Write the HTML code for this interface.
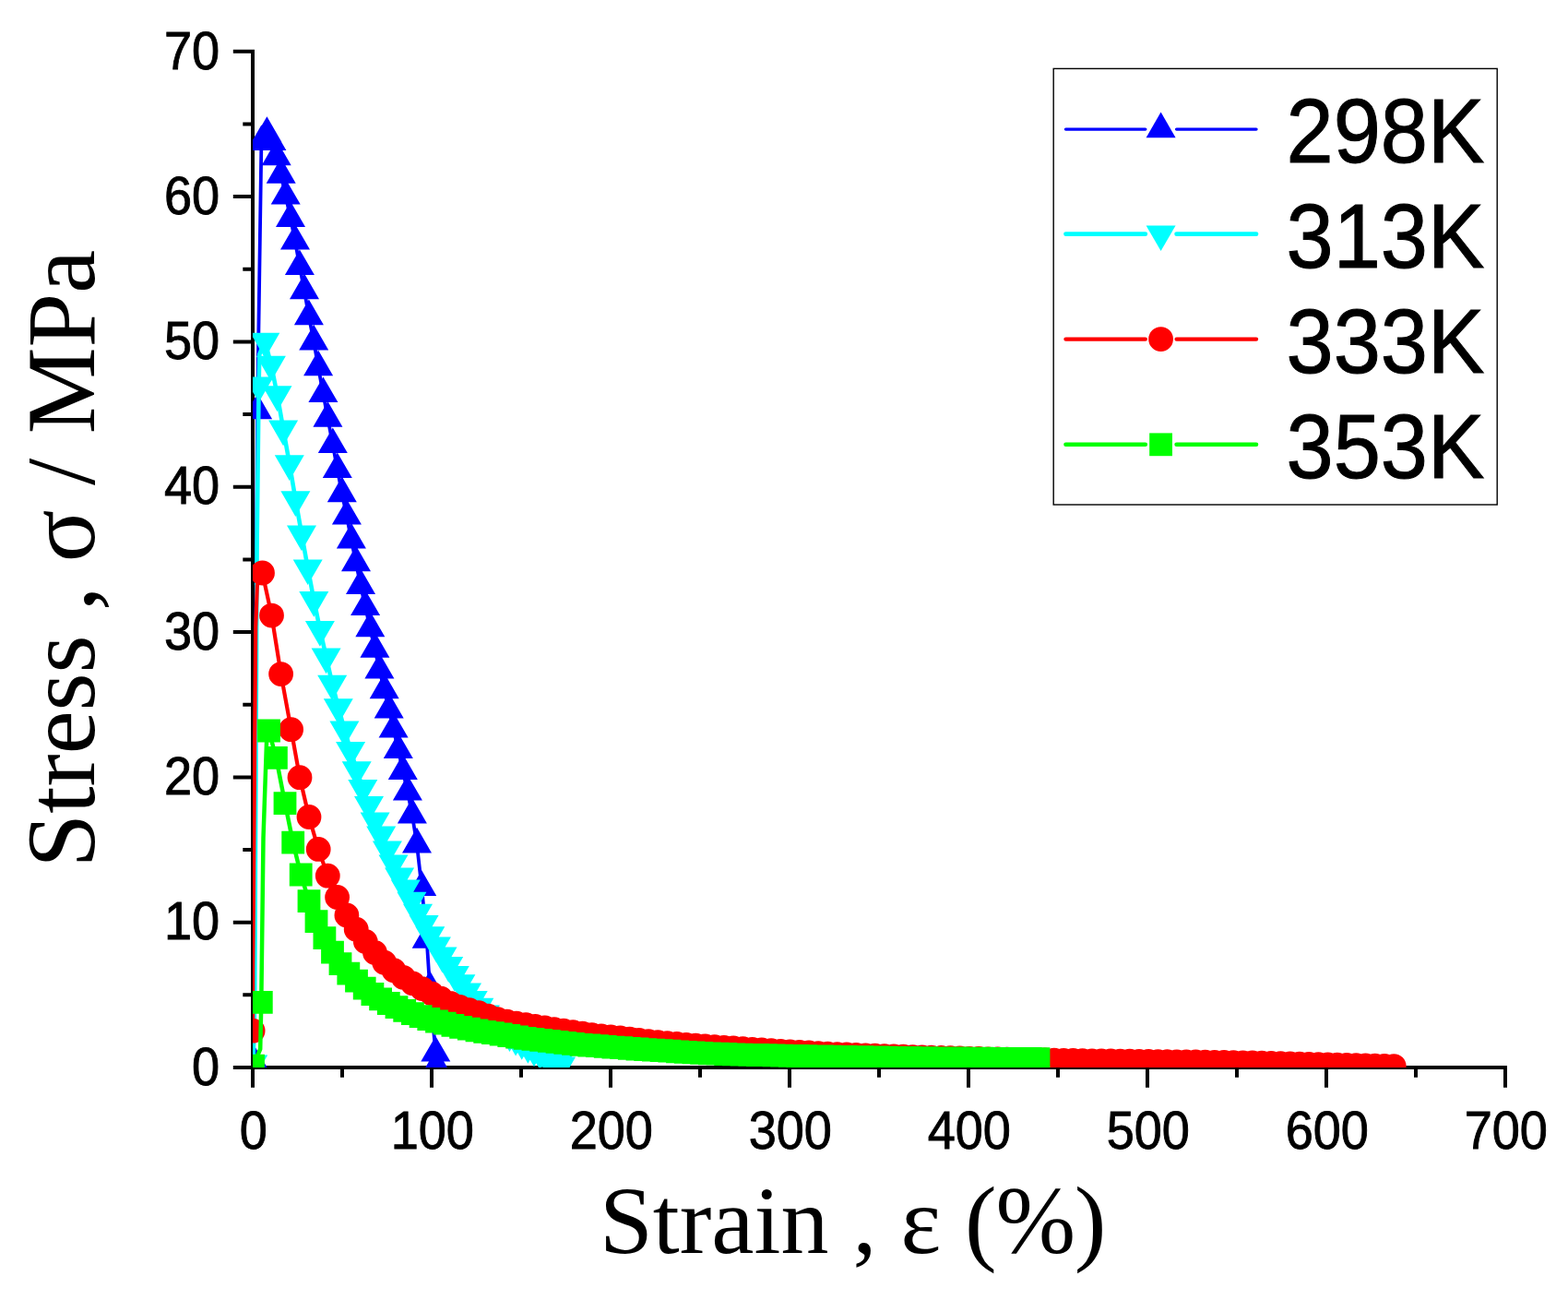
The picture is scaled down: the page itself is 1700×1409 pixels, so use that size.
<!DOCTYPE html>
<html lang="en"><head><meta charset="utf-8"><title>Stress-strain curves</title>
<style>html,body{margin:0;padding:0;background:#fff}body{width:1700px;height:1409px;overflow:hidden}svg{display:block}.t{font-family:"Liberation Sans",sans-serif;font-size:57.6px;fill:#000;stroke:#000;stroke-width:.9px}.l{font-family:"Liberation Sans",sans-serif;font-size:99px;fill:#000;stroke:#000;stroke-width:1px}.a{font-family:"Liberation Serif",serif;font-size:104px;fill:#000}.b{font-family:"Liberation Serif",serif;font-size:105.5px;fill:#000}</style></head><body>
<svg width="1700" height="1409" viewBox="0 0 1700 1409">
<rect width="1700" height="1409" fill="#fff"/>
<clipPath id="plot"><rect x="273.9" y="40" width="1400" height="1117"/></clipPath>
<path d="M274 53.75V1159M252.8 1157H1634M263.3 1078.3H274M252.8 999.7H274M263.3 921H274M252.8 842.4H274M263.3 763.7H274M252.8 685H274M263.3 606.4H274M252.8 527.7H274M263.3 449.1H274M252.8 370.4H274M263.3 291.7H274M252.8 213.1H274M263.3 134.4H274M252.8 55.8H274M274 1157V1178.8M371 1157V1167.8M468 1157V1178.8M565 1157V1167.8M662 1157V1178.8M759 1157V1167.8M856 1157V1178.8M953 1157V1167.8M1050 1157V1178.8M1147 1157V1167.8M1244 1157V1178.8M1341 1157V1167.8M1438 1157V1178.8M1535 1157V1167.8M1632 1157V1178.8" fill="none" stroke="#000" stroke-width="4"/>
<g class="t" text-anchor="end">
<text transform="translate(238.2 1175.7) scale(0.94 1)">0</text>
<text transform="translate(238.2 1018.4) scale(0.94 1)">10</text>
<text transform="translate(238.2 861.1) scale(0.94 1)">20</text>
<text transform="translate(238.2 703.7) scale(0.94 1)">30</text>
<text transform="translate(238.2 546.4) scale(0.94 1)">40</text>
<text transform="translate(238.2 389.1) scale(0.94 1)">50</text>
<text transform="translate(238.2 231.8) scale(0.94 1)">60</text>
<text transform="translate(238.2 74.5) scale(0.94 1)">70</text>
</g>
<g class="t" text-anchor="middle">
<text transform="translate(274.8 1245.2) scale(0.94 1)">0</text>
<text transform="translate(468.8 1245.2) scale(0.94 1)">100</text>
<text transform="translate(662.8 1245.2) scale(0.94 1)">200</text>
<text transform="translate(856.8 1245.2) scale(0.94 1)">300</text>
<text transform="translate(1050.8 1245.2) scale(0.94 1)">400</text>
<text transform="translate(1244.8 1245.2) scale(0.94 1)">500</text>
<text transform="translate(1438.8 1245.2) scale(0.94 1)">600</text>
<text transform="translate(1632.8 1245.2) scale(0.94 1)">700</text>
</g>
<text class="a" x="650" y="1358.2">Strain , ε (<tspan dx="-1.2">%</tspan><tspan dx="-1.4">)</tspan></text>
<text class="b" transform="translate(102 940.4) rotate(-90)">Stress , σ / MPa</text>
<g clip-path="url(#plot)">
<path d="M274.2 1148.9L279.1 445.1L283.4 153.9L289.4 144.7L294.4 153.9L299.7 170.1L304.7 189.6L309.7 212.4L315 236.7L320 261.4L324.9 288.9L330 315.1L334.9 343.1L340.2 370.2L345.1 398.1L350.4 426.9L355.4 453.5L360.8 481.9L365.8 508.9L370.8 535L375.9 559.4L380.9 585.2L386 610L391 634.8L396.1 657.9L401.3 681L406.4 703.5L411.4 726.2L416.7 748L421.7 769.3L426.6 790.4L431.8 812.8L436.8 835.7L441.9 858.4L446.9 883.2L452 915.2L457.2 961.8L462.7 1018.5L466 1070.5L472.3 1141.4L473.1 1155" fill="none" stroke="#0000ff" stroke-width="3.8" stroke-linejoin="round"/>
<path d="M274.2 1130.4l16 27.7h-32zM279.1 426.6l16 27.7h-32zM283.4 135.4l16 27.7h-32zM289.4 126.2l16 27.7h-32zM294.4 135.4l16 27.7h-32zM299.7 151.6l16 27.7h-32zM304.7 171.1l16 27.7h-32zM309.7 193.9l16 27.7h-32zM315 218.2l16 27.7h-32zM320 242.9l16 27.7h-32zM324.9 270.4l16 27.7h-32zM330 296.6l16 27.7h-32zM334.9 324.6l16 27.7h-32zM340.2 351.7l16 27.7h-32zM345.1 379.6l16 27.7h-32zM350.4 408.4l16 27.7h-32zM355.4 435l16 27.7h-32zM360.8 463.4l16 27.7h-32zM365.8 490.4l16 27.7h-32zM370.8 516.5l16 27.7h-32zM375.9 540.9l16 27.7h-32zM380.9 566.7l16 27.7h-32zM386 591.5l16 27.7h-32zM391 616.3l16 27.7h-32zM396.1 639.4l16 27.7h-32zM401.3 662.5l16 27.7h-32zM406.4 685l16 27.7h-32zM411.4 707.7l16 27.7h-32zM416.7 729.5l16 27.7h-32zM421.7 750.8l16 27.7h-32zM426.6 771.9l16 27.7h-32zM431.8 794.3l16 27.7h-32zM436.8 817.2l16 27.7h-32zM441.9 839.9l16 27.7h-32zM446.9 864.7l16 27.7h-32zM452 896.7l16 27.7h-32zM457.2 943.3l16 27.7h-32zM462.7 1000l16 27.7h-32zM466 1052l16 27.7h-32zM472.3 1122.9l16 27.7h-32zM473.1 1136.5l16 27.7h-32z" fill="#0000ff"/>
<path d="M274.2 1152.8L275.5 1120L276.2 1075L278.6 590L280.6 417.6L281.3 384L287.3 369.9L293.9 395L300.5 427.4L307.1 464.8L313.8 502.4L320.4 541.4L327 578.7L333.7 615.6L340.3 650.2L346.9 682.3L353.6 711.7L360.2 741L366.8 766.4L373.4 790.7L380.1 813.2L386.7 834.5L393.3 854.2L400 872.3L406.6 889.7L413.2 904.8L419.9 920.6L426.5 935.6L433.1 949.8L439.8 962.8L446.4 976L453 988.9L459.6 1001.3L466.3 1013.4L472.9 1024.8L479.5 1035.8L486.2 1046.2L492.8 1056.2L499.4 1065.4L506 1074.6L512.7 1083.1L519.3 1090.9L525.9 1098.7L532.6 1105.2L539.2 1111L545.8 1116.4L552.5 1121.4L559.1 1126L565.7 1130.2L572.4 1134.2L579 1137.8L585.6 1141.2L592.2 1144.8L598.9 1148.4L605.5 1151.8L608.1 1154.8" fill="none" stroke="#00ffff" stroke-width="4.6" stroke-linejoin="round"/>
<path d="M274.2 1171.3l16 -27.7h-32zM280.6 436.1l16 -27.7h-32zM287.3 388.4l16 -27.7h-32zM293.9 413.5l16 -27.7h-32zM300.5 445.9l16 -27.7h-32zM307.1 483.3l16 -27.7h-32zM313.8 520.9l16 -27.7h-32zM320.4 559.9l16 -27.7h-32zM327 597.2l16 -27.7h-32zM333.7 634.1l16 -27.7h-32zM340.3 668.7l16 -27.7h-32zM346.9 700.8l16 -27.7h-32zM353.6 730.2l16 -27.7h-32zM360.2 759.5l16 -27.7h-32zM366.8 784.9l16 -27.7h-32zM373.4 809.2l16 -27.7h-32zM380.1 831.7l16 -27.7h-32zM386.7 853l16 -27.7h-32zM393.3 872.7l16 -27.7h-32zM400 890.8l16 -27.7h-32zM406.6 908.2l16 -27.7h-32zM413.2 923.3l16 -27.7h-32zM419.9 939.1l16 -27.7h-32zM426.5 954.1l16 -27.7h-32zM433.1 968.3l16 -27.7h-32zM439.8 981.3l16 -27.7h-32zM446.4 994.5l16 -27.7h-32zM453 1007.4l16 -27.7h-32zM459.6 1019.8l16 -27.7h-32zM466.3 1031.9l16 -27.7h-32zM472.9 1043.3l16 -27.7h-32zM479.5 1054.3l16 -27.7h-32zM486.2 1064.7l16 -27.7h-32zM492.8 1074.7l16 -27.7h-32zM499.4 1083.9l16 -27.7h-32zM506 1093.1l16 -27.7h-32zM512.7 1101.6l16 -27.7h-32zM519.3 1109.4l16 -27.7h-32zM525.9 1117.2l16 -27.7h-32zM532.6 1123.7l16 -27.7h-32zM539.2 1129.5l16 -27.7h-32zM545.8 1134.9l16 -27.7h-32zM552.5 1139.9l16 -27.7h-32zM559.1 1144.5l16 -27.7h-32zM565.7 1148.7l16 -27.7h-32zM572.4 1152.7l16 -27.7h-32zM579 1156.3l16 -27.7h-32zM585.6 1159.7l16 -27.7h-32zM592.2 1163.3l16 -27.7h-32zM598.9 1166.9l16 -27.7h-32zM605.5 1170.3l16 -27.7h-32zM608.1 1173.3l16 -27.7h-32z" fill="#00ffff"/>
<path d="M274.1 1117.2L274.2 1050L275.8 850L277.2 680L278.8 635L281 624L284.5 621L294.5 667.1L304.6 730.6L315.6 790.7L325 842.7L335 885.5L345.2 920.4L355.3 949.2L365.6 972.5L375.9 992L386.2 1007.2L396.3 1020.4L406.5 1032.4L416.7 1043.2L427 1051.7L437.2 1059.3L447.4 1065.8L457.6 1071.6L467.8 1076.8L478 1082.2L488.3 1087.3L498.5 1091.3L508.7 1094.7L518.9 1097.8L529.2 1101.1L539.4 1104.6L549.6 1107.2L559.9 1109.1L570.1 1110.7L580.3 1112.4L590.6 1114L600.8 1115.6L611 1117.2L621.2 1118.7L631.5 1120.2L641.7 1121.6L651.9 1122.8L662.2 1123.9L672.4 1125L682.6 1126.1L692.8 1127.4L703.1 1128.6L713.3 1129.7L723.5 1130.6L733.8 1131.5L744 1132.3L754.2 1133.1L764.5 1133.9L774.7 1134.6L784.9 1135.3L795.1 1136L805.4 1136.7L815.6 1137.3L825.8 1138L836.1 1138.7L846.3 1139.3L856.5 1139.9L866.7 1140.5L877 1141L887.2 1141.6L897.4 1142.1L907.7 1142.6L917.9 1143L928.1 1143.4L938.4 1143.8L948.6 1144.2L958.8 1144.6L969 1144.9L979.3 1145.2L989.5 1145.6L999.7 1145.9L1010 1146.2L1020.2 1146.5L1030.4 1146.7L1040.6 1147L1050.9 1147.3L1061.1 1147.5L1071.3 1147.8L1081.6 1148L1091.8 1148.2L1102 1148.4L1112.3 1148.6L1122.5 1148.8L1132.7 1149L1142.9 1149.2L1153.2 1149.3L1163.4 1149.5L1173.6 1149.6L1183.9 1149.8L1194.1 1149.9L1204.3 1150L1214.5 1150.1L1224.8 1150.2L1235 1150.3L1245.2 1150.4L1255.5 1150.6L1265.7 1150.7L1275.9 1150.8L1286.2 1150.9L1296.4 1151L1306.6 1151.2L1316.8 1151.3L1327.1 1151.5L1337.3 1151.6L1347.5 1151.8L1357.8 1152L1368 1152.2L1378.2 1152.4L1388.4 1152.7L1398.7 1152.9L1408.9 1153.1L1419.1 1153.4L1429.4 1153.7L1439.6 1153.9L1449.8 1154.2L1460.1 1154.4L1470.3 1154.7L1480.5 1154.9L1490.7 1155.2L1501 1155.4L1511.2 1155.6" fill="none" stroke="#ff0000" stroke-width="4.2" stroke-linejoin="round"/>
<path d="M260.7 1117.2a13.4 13.4 0 1 0 26.8 0a13.4 13.4 0 1 0 -26.8 0zM271.1 621a13.4 13.4 0 1 0 26.8 0a13.4 13.4 0 1 0 -26.8 0zM281.1 667.1a13.4 13.4 0 1 0 26.8 0a13.4 13.4 0 1 0 -26.8 0zM291.2 730.6a13.4 13.4 0 1 0 26.8 0a13.4 13.4 0 1 0 -26.8 0zM302.2 790.7a13.4 13.4 0 1 0 26.8 0a13.4 13.4 0 1 0 -26.8 0zM311.6 842.7a13.4 13.4 0 1 0 26.8 0a13.4 13.4 0 1 0 -26.8 0zM321.6 885.5a13.4 13.4 0 1 0 26.8 0a13.4 13.4 0 1 0 -26.8 0zM331.8 920.4a13.4 13.4 0 1 0 26.8 0a13.4 13.4 0 1 0 -26.8 0zM341.9 949.2a13.4 13.4 0 1 0 26.8 0a13.4 13.4 0 1 0 -26.8 0zM352.2 972.5a13.4 13.4 0 1 0 26.8 0a13.4 13.4 0 1 0 -26.8 0zM362.5 992a13.4 13.4 0 1 0 26.8 0a13.4 13.4 0 1 0 -26.8 0zM372.8 1007.2a13.4 13.4 0 1 0 26.8 0a13.4 13.4 0 1 0 -26.8 0zM382.9 1020.4a13.4 13.4 0 1 0 26.8 0a13.4 13.4 0 1 0 -26.8 0zM393.1 1032.4a13.4 13.4 0 1 0 26.8 0a13.4 13.4 0 1 0 -26.8 0zM403.3 1043.2a13.4 13.4 0 1 0 26.8 0a13.4 13.4 0 1 0 -26.8 0zM413.6 1051.7a13.4 13.4 0 1 0 26.8 0a13.4 13.4 0 1 0 -26.8 0zM423.8 1059.3a13.4 13.4 0 1 0 26.8 0a13.4 13.4 0 1 0 -26.8 0zM434 1065.8a13.4 13.4 0 1 0 26.8 0a13.4 13.4 0 1 0 -26.8 0zM444.2 1071.6a13.4 13.4 0 1 0 26.8 0a13.4 13.4 0 1 0 -26.8 0zM454.4 1076.8a13.4 13.4 0 1 0 26.8 0a13.4 13.4 0 1 0 -26.8 0zM464.6 1082.2a13.4 13.4 0 1 0 26.8 0a13.4 13.4 0 1 0 -26.8 0zM474.9 1087.3a13.4 13.4 0 1 0 26.8 0a13.4 13.4 0 1 0 -26.8 0zM485.1 1091.3a13.4 13.4 0 1 0 26.8 0a13.4 13.4 0 1 0 -26.8 0zM495.3 1094.7a13.4 13.4 0 1 0 26.8 0a13.4 13.4 0 1 0 -26.8 0zM505.5 1097.8a13.4 13.4 0 1 0 26.8 0a13.4 13.4 0 1 0 -26.8 0zM515.8 1101.1a13.4 13.4 0 1 0 26.8 0a13.4 13.4 0 1 0 -26.8 0zM526 1104.6a13.4 13.4 0 1 0 26.8 0a13.4 13.4 0 1 0 -26.8 0zM536.2 1107.2a13.4 13.4 0 1 0 26.8 0a13.4 13.4 0 1 0 -26.8 0zM546.5 1109.1a13.4 13.4 0 1 0 26.8 0a13.4 13.4 0 1 0 -26.8 0zM556.7 1110.7a13.4 13.4 0 1 0 26.8 0a13.4 13.4 0 1 0 -26.8 0zM566.9 1112.4a13.4 13.4 0 1 0 26.8 0a13.4 13.4 0 1 0 -26.8 0zM577.2 1114a13.4 13.4 0 1 0 26.8 0a13.4 13.4 0 1 0 -26.8 0zM587.4 1115.6a13.4 13.4 0 1 0 26.8 0a13.4 13.4 0 1 0 -26.8 0zM597.6 1117.2a13.4 13.4 0 1 0 26.8 0a13.4 13.4 0 1 0 -26.8 0zM607.8 1118.7a13.4 13.4 0 1 0 26.8 0a13.4 13.4 0 1 0 -26.8 0zM618.1 1120.2a13.4 13.4 0 1 0 26.8 0a13.4 13.4 0 1 0 -26.8 0zM628.3 1121.6a13.4 13.4 0 1 0 26.8 0a13.4 13.4 0 1 0 -26.8 0zM638.5 1122.8a13.4 13.4 0 1 0 26.8 0a13.4 13.4 0 1 0 -26.8 0zM648.8 1123.9a13.4 13.4 0 1 0 26.8 0a13.4 13.4 0 1 0 -26.8 0zM659 1125a13.4 13.4 0 1 0 26.8 0a13.4 13.4 0 1 0 -26.8 0zM669.2 1126.1a13.4 13.4 0 1 0 26.8 0a13.4 13.4 0 1 0 -26.8 0zM679.4 1127.4a13.4 13.4 0 1 0 26.8 0a13.4 13.4 0 1 0 -26.8 0zM689.7 1128.6a13.4 13.4 0 1 0 26.8 0a13.4 13.4 0 1 0 -26.8 0zM699.9 1129.7a13.4 13.4 0 1 0 26.8 0a13.4 13.4 0 1 0 -26.8 0zM710.1 1130.6a13.4 13.4 0 1 0 26.8 0a13.4 13.4 0 1 0 -26.8 0zM720.4 1131.5a13.4 13.4 0 1 0 26.8 0a13.4 13.4 0 1 0 -26.8 0zM730.6 1132.3a13.4 13.4 0 1 0 26.8 0a13.4 13.4 0 1 0 -26.8 0zM740.8 1133.1a13.4 13.4 0 1 0 26.8 0a13.4 13.4 0 1 0 -26.8 0zM751.1 1133.9a13.4 13.4 0 1 0 26.8 0a13.4 13.4 0 1 0 -26.8 0zM761.3 1134.6a13.4 13.4 0 1 0 26.8 0a13.4 13.4 0 1 0 -26.8 0zM771.5 1135.3a13.4 13.4 0 1 0 26.8 0a13.4 13.4 0 1 0 -26.8 0zM781.7 1136a13.4 13.4 0 1 0 26.8 0a13.4 13.4 0 1 0 -26.8 0zM792 1136.7a13.4 13.4 0 1 0 26.8 0a13.4 13.4 0 1 0 -26.8 0zM802.2 1137.3a13.4 13.4 0 1 0 26.8 0a13.4 13.4 0 1 0 -26.8 0zM812.4 1138a13.4 13.4 0 1 0 26.8 0a13.4 13.4 0 1 0 -26.8 0zM822.7 1138.7a13.4 13.4 0 1 0 26.8 0a13.4 13.4 0 1 0 -26.8 0zM832.9 1139.3a13.4 13.4 0 1 0 26.8 0a13.4 13.4 0 1 0 -26.8 0zM843.1 1139.9a13.4 13.4 0 1 0 26.8 0a13.4 13.4 0 1 0 -26.8 0zM853.3 1140.5a13.4 13.4 0 1 0 26.8 0a13.4 13.4 0 1 0 -26.8 0zM863.6 1141a13.4 13.4 0 1 0 26.8 0a13.4 13.4 0 1 0 -26.8 0zM873.8 1141.6a13.4 13.4 0 1 0 26.8 0a13.4 13.4 0 1 0 -26.8 0zM884 1142.1a13.4 13.4 0 1 0 26.8 0a13.4 13.4 0 1 0 -26.8 0zM894.3 1142.6a13.4 13.4 0 1 0 26.8 0a13.4 13.4 0 1 0 -26.8 0zM904.5 1143a13.4 13.4 0 1 0 26.8 0a13.4 13.4 0 1 0 -26.8 0zM914.7 1143.4a13.4 13.4 0 1 0 26.8 0a13.4 13.4 0 1 0 -26.8 0zM925 1143.8a13.4 13.4 0 1 0 26.8 0a13.4 13.4 0 1 0 -26.8 0zM935.2 1144.2a13.4 13.4 0 1 0 26.8 0a13.4 13.4 0 1 0 -26.8 0zM945.4 1144.6a13.4 13.4 0 1 0 26.8 0a13.4 13.4 0 1 0 -26.8 0zM955.6 1144.9a13.4 13.4 0 1 0 26.8 0a13.4 13.4 0 1 0 -26.8 0zM965.9 1145.2a13.4 13.4 0 1 0 26.8 0a13.4 13.4 0 1 0 -26.8 0zM976.1 1145.6a13.4 13.4 0 1 0 26.8 0a13.4 13.4 0 1 0 -26.8 0zM986.3 1145.9a13.4 13.4 0 1 0 26.8 0a13.4 13.4 0 1 0 -26.8 0zM996.6 1146.2a13.4 13.4 0 1 0 26.8 0a13.4 13.4 0 1 0 -26.8 0zM1006.8 1146.5a13.4 13.4 0 1 0 26.8 0a13.4 13.4 0 1 0 -26.8 0zM1017 1146.7a13.4 13.4 0 1 0 26.8 0a13.4 13.4 0 1 0 -26.8 0zM1027.2 1147a13.4 13.4 0 1 0 26.8 0a13.4 13.4 0 1 0 -26.8 0zM1037.5 1147.3a13.4 13.4 0 1 0 26.8 0a13.4 13.4 0 1 0 -26.8 0zM1047.7 1147.5a13.4 13.4 0 1 0 26.8 0a13.4 13.4 0 1 0 -26.8 0zM1057.9 1147.8a13.4 13.4 0 1 0 26.8 0a13.4 13.4 0 1 0 -26.8 0zM1068.2 1148a13.4 13.4 0 1 0 26.8 0a13.4 13.4 0 1 0 -26.8 0zM1078.4 1148.2a13.4 13.4 0 1 0 26.8 0a13.4 13.4 0 1 0 -26.8 0zM1088.6 1148.4a13.4 13.4 0 1 0 26.8 0a13.4 13.4 0 1 0 -26.8 0zM1098.9 1148.6a13.4 13.4 0 1 0 26.8 0a13.4 13.4 0 1 0 -26.8 0zM1109.1 1148.8a13.4 13.4 0 1 0 26.8 0a13.4 13.4 0 1 0 -26.8 0zM1119.3 1149a13.4 13.4 0 1 0 26.8 0a13.4 13.4 0 1 0 -26.8 0zM1129.5 1149.2a13.4 13.4 0 1 0 26.8 0a13.4 13.4 0 1 0 -26.8 0zM1139.8 1149.3a13.4 13.4 0 1 0 26.8 0a13.4 13.4 0 1 0 -26.8 0zM1150 1149.5a13.4 13.4 0 1 0 26.8 0a13.4 13.4 0 1 0 -26.8 0zM1160.2 1149.6a13.4 13.4 0 1 0 26.8 0a13.4 13.4 0 1 0 -26.8 0zM1170.5 1149.8a13.4 13.4 0 1 0 26.8 0a13.4 13.4 0 1 0 -26.8 0zM1180.7 1149.9a13.4 13.4 0 1 0 26.8 0a13.4 13.4 0 1 0 -26.8 0zM1190.9 1150a13.4 13.4 0 1 0 26.8 0a13.4 13.4 0 1 0 -26.8 0zM1201.1 1150.1a13.4 13.4 0 1 0 26.8 0a13.4 13.4 0 1 0 -26.8 0zM1211.4 1150.2a13.4 13.4 0 1 0 26.8 0a13.4 13.4 0 1 0 -26.8 0zM1221.6 1150.3a13.4 13.4 0 1 0 26.8 0a13.4 13.4 0 1 0 -26.8 0zM1231.8 1150.4a13.4 13.4 0 1 0 26.8 0a13.4 13.4 0 1 0 -26.8 0zM1242.1 1150.6a13.4 13.4 0 1 0 26.8 0a13.4 13.4 0 1 0 -26.8 0zM1252.3 1150.7a13.4 13.4 0 1 0 26.8 0a13.4 13.4 0 1 0 -26.8 0zM1262.5 1150.8a13.4 13.4 0 1 0 26.8 0a13.4 13.4 0 1 0 -26.8 0zM1272.8 1150.9a13.4 13.4 0 1 0 26.8 0a13.4 13.4 0 1 0 -26.8 0zM1283 1151a13.4 13.4 0 1 0 26.8 0a13.4 13.4 0 1 0 -26.8 0zM1293.2 1151.2a13.4 13.4 0 1 0 26.8 0a13.4 13.4 0 1 0 -26.8 0zM1303.4 1151.3a13.4 13.4 0 1 0 26.8 0a13.4 13.4 0 1 0 -26.8 0zM1313.7 1151.5a13.4 13.4 0 1 0 26.8 0a13.4 13.4 0 1 0 -26.8 0zM1323.9 1151.6a13.4 13.4 0 1 0 26.8 0a13.4 13.4 0 1 0 -26.8 0zM1334.1 1151.8a13.4 13.4 0 1 0 26.8 0a13.4 13.4 0 1 0 -26.8 0zM1344.4 1152a13.4 13.4 0 1 0 26.8 0a13.4 13.4 0 1 0 -26.8 0zM1354.6 1152.2a13.4 13.4 0 1 0 26.8 0a13.4 13.4 0 1 0 -26.8 0zM1364.8 1152.4a13.4 13.4 0 1 0 26.8 0a13.4 13.4 0 1 0 -26.8 0zM1375 1152.7a13.4 13.4 0 1 0 26.8 0a13.4 13.4 0 1 0 -26.8 0zM1385.3 1152.9a13.4 13.4 0 1 0 26.8 0a13.4 13.4 0 1 0 -26.8 0zM1395.5 1153.1a13.4 13.4 0 1 0 26.8 0a13.4 13.4 0 1 0 -26.8 0zM1405.7 1153.4a13.4 13.4 0 1 0 26.8 0a13.4 13.4 0 1 0 -26.8 0zM1416 1153.7a13.4 13.4 0 1 0 26.8 0a13.4 13.4 0 1 0 -26.8 0zM1426.2 1153.9a13.4 13.4 0 1 0 26.8 0a13.4 13.4 0 1 0 -26.8 0zM1436.4 1154.2a13.4 13.4 0 1 0 26.8 0a13.4 13.4 0 1 0 -26.8 0zM1446.7 1154.4a13.4 13.4 0 1 0 26.8 0a13.4 13.4 0 1 0 -26.8 0zM1456.9 1154.7a13.4 13.4 0 1 0 26.8 0a13.4 13.4 0 1 0 -26.8 0zM1467.1 1154.9a13.4 13.4 0 1 0 26.8 0a13.4 13.4 0 1 0 -26.8 0zM1477.3 1155.2a13.4 13.4 0 1 0 26.8 0a13.4 13.4 0 1 0 -26.8 0zM1487.6 1155.4a13.4 13.4 0 1 0 26.8 0a13.4 13.4 0 1 0 -26.8 0zM1497.8 1155.6a13.4 13.4 0 1 0 26.8 0a13.4 13.4 0 1 0 -26.8 0z" fill="#ff0000"/>
<path d="M274.5 1155.2L282.2 1137L283.3 1086.3L285.5 908L289 805L291.5 792L299.4 821.4L309 870.6L317.7 913.2L326.2 948L335 976.6L343 998.6L351.9 1016.6L360.5 1032.1L369 1044.7L377.8 1055.2L386.5 1063.2L395.2 1071.1L403.9 1077.5L412.6 1082.9L421.3 1087.5L430 1091.6L438.7 1095.3L447.4 1098.6L456.1 1101.7L464.8 1104.5L473.5 1107L482.2 1109.2L490.9 1111.4L499.6 1113.3L508.3 1115.1L517 1116.8L525.7 1118.3L534.4 1119.6L543.1 1121L551.8 1122.5L560.5 1124L569.2 1125.3L577.9 1126.4L586.6 1127.4L595.3 1128.4L604 1129.4L612.7 1130.4L621.4 1131.4L630.1 1132.3L638.8 1133L647.5 1133.7L656.2 1134.4L664.9 1135.1L673.6 1135.7L682.3 1136.3L691 1137L699.7 1137.6L708.4 1138.1L717.1 1138.7L725.8 1139.2L734.5 1139.8L743.2 1140.4L751.9 1140.9L760.6 1141.4L769.3 1141.8L778 1142.2L786.7 1142.5L795.4 1142.8L804.1 1143.1L812.8 1143.3L821.5 1143.5L830.2 1143.7L838.9 1143.9L847.6 1144.1L856.3 1144.3L865 1144.5L873.7 1144.7L882.4 1144.8L891.1 1145L899.8 1145.1L908.5 1145.3L917.2 1145.4L925.9 1145.6L934.6 1145.7L943.3 1145.9L952 1146L960.7 1146.2L969.4 1146.3L978.1 1146.4L986.8 1146.5L995.5 1146.6L1004.2 1146.7L1012.9 1146.8L1021.6 1146.9L1030.3 1147L1039 1147L1047.7 1147.1L1056.4 1147.2L1065.1 1147.2L1073.8 1147.3L1082.5 1147.3L1091.2 1147.4L1099.9 1147.4L1108.6 1147.5L1117.3 1147.5L1126 1147.6" fill="none" stroke="#00ff00" stroke-width="4.5" stroke-linejoin="round"/>
<path d="M262.1 1142.8h24.8v24.8h-24.8zM270.9 1073.9h24.8v24.8h-24.8zM279.1 779.6h24.8v24.8h-24.8zM287 809h24.8v24.8h-24.8zM296.6 858.2h24.8v24.8h-24.8zM305.3 900.8h24.8v24.8h-24.8zM313.8 935.6h24.8v24.8h-24.8zM322.6 964.2h24.8v24.8h-24.8zM330.6 986.2h24.8v24.8h-24.8zM339.5 1004.2h24.8v24.8h-24.8zM348.1 1019.7h24.8v24.8h-24.8zM356.6 1032.3h24.8v24.8h-24.8zM365.4 1042.8h24.8v24.8h-24.8zM374.1 1050.8h24.8v24.8h-24.8zM382.8 1058.7h24.8v24.8h-24.8zM391.5 1065.1h24.8v24.8h-24.8zM400.2 1070.5h24.8v24.8h-24.8zM408.9 1075.1h24.8v24.8h-24.8zM417.6 1079.2h24.8v24.8h-24.8zM426.3 1082.9h24.8v24.8h-24.8zM435 1086.2h24.8v24.8h-24.8zM443.7 1089.3h24.8v24.8h-24.8zM452.4 1092.1h24.8v24.8h-24.8zM461.1 1094.6h24.8v24.8h-24.8zM469.8 1096.8h24.8v24.8h-24.8zM478.5 1099h24.8v24.8h-24.8zM487.2 1100.9h24.8v24.8h-24.8zM495.9 1102.7h24.8v24.8h-24.8zM504.6 1104.4h24.8v24.8h-24.8zM513.3 1105.9h24.8v24.8h-24.8zM522 1107.2h24.8v24.8h-24.8zM530.7 1108.6h24.8v24.8h-24.8zM539.4 1110.1h24.8v24.8h-24.8zM548.1 1111.6h24.8v24.8h-24.8zM556.8 1112.9h24.8v24.8h-24.8zM565.5 1114h24.8v24.8h-24.8zM574.2 1115h24.8v24.8h-24.8zM582.9 1116h24.8v24.8h-24.8zM591.6 1117h24.8v24.8h-24.8zM600.3 1118h24.8v24.8h-24.8zM609 1119h24.8v24.8h-24.8zM617.7 1119.9h24.8v24.8h-24.8zM626.4 1120.6h24.8v24.8h-24.8zM635.1 1121.3h24.8v24.8h-24.8zM643.8 1122h24.8v24.8h-24.8zM652.5 1122.7h24.8v24.8h-24.8zM661.2 1123.3h24.8v24.8h-24.8zM669.9 1123.9h24.8v24.8h-24.8zM678.6 1124.6h24.8v24.8h-24.8zM687.3 1125.2h24.8v24.8h-24.8zM696 1125.7h24.8v24.8h-24.8zM704.7 1126.3h24.8v24.8h-24.8zM713.4 1126.8h24.8v24.8h-24.8zM722.1 1127.4h24.8v24.8h-24.8zM730.8 1128h24.8v24.8h-24.8zM739.5 1128.5h24.8v24.8h-24.8zM748.2 1129h24.8v24.8h-24.8zM756.9 1129.4h24.8v24.8h-24.8zM765.6 1129.8h24.8v24.8h-24.8zM774.3 1130.1h24.8v24.8h-24.8zM783 1130.4h24.8v24.8h-24.8zM791.7 1130.7h24.8v24.8h-24.8zM800.4 1130.9h24.8v24.8h-24.8zM809.1 1131.1h24.8v24.8h-24.8zM817.8 1131.3h24.8v24.8h-24.8zM826.5 1131.5h24.8v24.8h-24.8zM835.2 1131.7h24.8v24.8h-24.8zM843.9 1131.9h24.8v24.8h-24.8zM852.6 1132.1h24.8v24.8h-24.8zM861.3 1132.3h24.8v24.8h-24.8zM870 1132.4h24.8v24.8h-24.8zM878.7 1132.6h24.8v24.8h-24.8zM887.4 1132.7h24.8v24.8h-24.8zM896.1 1132.9h24.8v24.8h-24.8zM904.8 1133h24.8v24.8h-24.8zM913.5 1133.2h24.8v24.8h-24.8zM922.2 1133.3h24.8v24.8h-24.8zM930.9 1133.5h24.8v24.8h-24.8zM939.6 1133.6h24.8v24.8h-24.8zM948.3 1133.8h24.8v24.8h-24.8zM957 1133.9h24.8v24.8h-24.8zM965.7 1134h24.8v24.8h-24.8zM974.4 1134.1h24.8v24.8h-24.8zM983.1 1134.2h24.8v24.8h-24.8zM991.8 1134.3h24.8v24.8h-24.8zM1000.5 1134.4h24.8v24.8h-24.8zM1009.2 1134.5h24.8v24.8h-24.8zM1017.9 1134.6h24.8v24.8h-24.8zM1026.6 1134.6h24.8v24.8h-24.8zM1035.3 1134.7h24.8v24.8h-24.8zM1044 1134.8h24.8v24.8h-24.8zM1052.7 1134.8h24.8v24.8h-24.8zM1061.4 1134.9h24.8v24.8h-24.8zM1070.1 1134.9h24.8v24.8h-24.8zM1078.8 1135h24.8v24.8h-24.8zM1087.5 1135h24.8v24.8h-24.8zM1096.2 1135.1h24.8v24.8h-24.8zM1104.9 1135.1h24.8v24.8h-24.8zM1113.6 1135.2h24.8v24.8h-24.8z" fill="#00ff00"/>
</g>
<rect x="1142.2" y="74.4" width="481" height="472.6" fill="#fff" stroke="#000" stroke-width="1.4"/>
<path d="M1155.5 140.1H1241.8M1275.6 140.1H1362" fill="none" stroke="#0000ff" stroke-width="3.4" stroke-linecap="round"/>
<path d="M1258.6 121.6l16 27.7h-32z" fill="#0000ff"/>
<text class="l" transform="translate(1394.5 176.1) scale(0.929 1)">298K</text>
<path d="M1155.5 253.6H1241.8M1275.6 253.6H1362" fill="none" stroke="#00ffff" stroke-width="4.8" stroke-linecap="round"/>
<path d="M1258.6 272.1l16 -27.7h-32z" fill="#00ffff"/>
<text class="l" transform="translate(1394.5 289.6) scale(0.929 1)">313K</text>
<path d="M1155.5 367.6H1241.8M1275.6 367.6H1362" fill="none" stroke="#ff0000" stroke-width="4.4" stroke-linecap="round"/>
<path d="M1245.2 367.6a13.4 13.4 0 1 0 26.8 0a13.4 13.4 0 1 0 -26.8 0z" fill="#ff0000"/>
<text class="l" transform="translate(1394.5 403.6) scale(0.929 1)">333K</text>
<path d="M1155.5 481.8H1241.8M1275.6 481.8H1362" fill="none" stroke="#00ff00" stroke-width="4.6" stroke-linecap="round"/>
<path d="M1246.2 469.4h24.8v24.8h-24.8z" fill="#00ff00"/>
<text class="l" transform="translate(1394.5 517.8) scale(0.929 1)">353K</text>
</svg></body></html>
